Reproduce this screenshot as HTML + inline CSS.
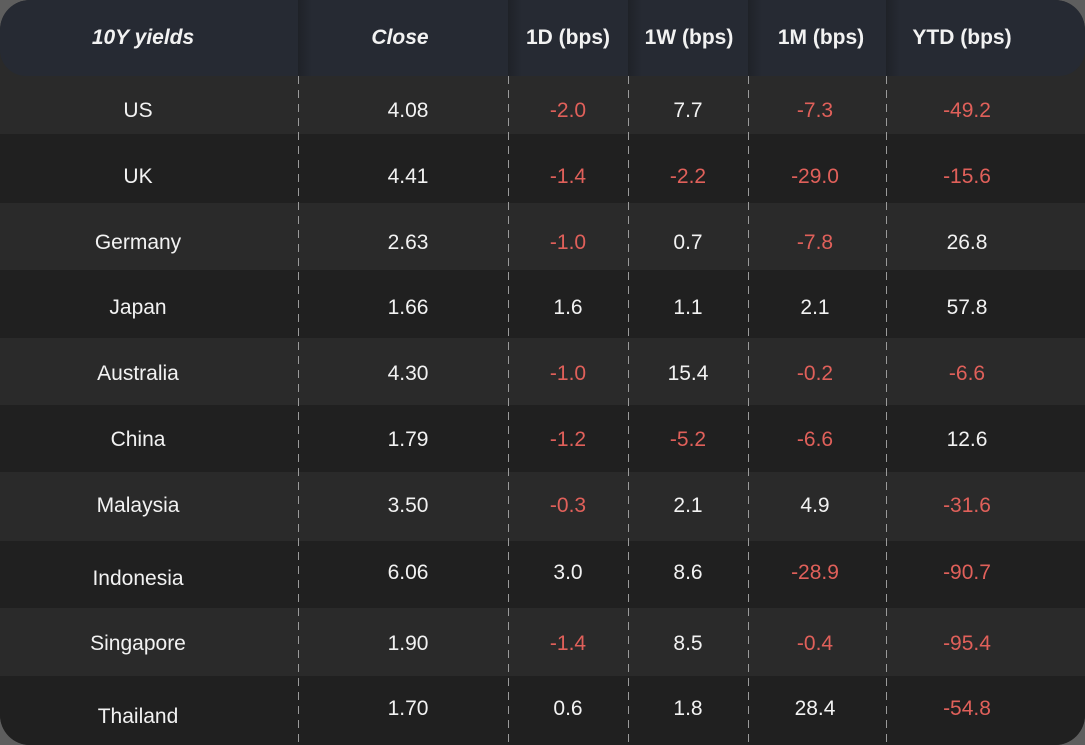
<!DOCTYPE html>
<html><head><meta charset="utf-8"><style>
html,body{margin:0;padding:0;width:1085px;height:745px;background:#5e5e5e;overflow:hidden}
#c{position:absolute;left:0;top:0;width:1085px;height:745px;border-radius:30px;overflow:hidden;background:#2a2a2a;font-family:"Liberation Sans",sans-serif;font-size:21px;color:#f2f2f2}
.r{position:absolute;left:0;width:1085px}
.h{position:absolute;left:0;top:0;width:1085px;height:76px;background:#262a33;border-radius:28px 28px 26px 26px}
.t{position:absolute;transform:translate(-50%,-50%);white-space:nowrap;margin-top:1px}
.hd{font-weight:bold;font-size:21px}
.it{font-style:italic}
.neg{color:#e0605a}
.v{position:absolute;top:76px;height:669px;width:1px;background:repeating-linear-gradient(180deg,#9a9a9a 0 8px,transparent 8px 14px)}
.hs{position:absolute;top:0;height:76px;width:14px;background:linear-gradient(90deg,#1f2228,rgba(38,42,51,0))}
</style></head><body><div id="c">
<div class="r" style="top:76px;height:58px;background:#2a2a2a"></div>
<div class="r" style="top:134px;height:69px;background:#202020"></div>
<div class="r" style="top:203px;height:67px;background:#2a2a2a"></div>
<div class="r" style="top:270px;height:68px;background:#202020"></div>
<div class="r" style="top:338px;height:67px;background:#2a2a2a"></div>
<div class="r" style="top:405px;height:67px;background:#202020"></div>
<div class="r" style="top:472px;height:69px;background:#2a2a2a"></div>
<div class="r" style="top:541px;height:67px;background:#202020"></div>
<div class="r" style="top:608px;height:68px;background:#2a2a2a"></div>
<div class="r" style="top:676px;height:69px;background:#202020"></div>
<div class="h"></div>
<div class="hs" style="left:298px"></div><div class="hs" style="left:508px"></div><div class="hs" style="left:628px"></div><div class="hs" style="left:748px"></div><div class="hs" style="left:886px"></div>
<div class="v" style="left:298px"></div><div class="v" style="left:508px"></div><div class="v" style="left:628px"></div><div class="v" style="left:748px"></div><div class="v" style="left:886px"></div>
<div class="t hd it" style="left:143px;top:37px">10Y yields</div>
<div class="t hd it" style="left:400px;top:37px">Close</div>
<div class="t hd" style="left:568px;top:37px">1D (bps)</div>
<div class="t hd" style="left:689px;top:37px">1W (bps)</div>
<div class="t hd" style="left:821px;top:37px">1M (bps)</div>
<div class="t hd" style="left:962px;top:37px">YTD (bps)</div>

<div class="t" style="left:138px;top:110px">US</div><div class="t" style="left:408px;top:110px">4.08</div><div class="t neg" style="left:568px;top:110px">-2.0</div><div class="t" style="left:688px;top:110px">7.7</div><div class="t neg" style="left:815px;top:110px">-7.3</div><div class="t neg" style="left:967px;top:110px">-49.2</div>
<div class="t" style="left:138px;top:176px">UK</div><div class="t" style="left:408px;top:176px">4.41</div><div class="t neg" style="left:568px;top:176px">-1.4</div><div class="t neg" style="left:688px;top:176px">-2.2</div><div class="t neg" style="left:815px;top:176px">-29.0</div><div class="t neg" style="left:967px;top:176px">-15.6</div>
<div class="t" style="left:138px;top:242px">Germany</div><div class="t" style="left:408px;top:242px">2.63</div><div class="t neg" style="left:568px;top:242px">-1.0</div><div class="t" style="left:688px;top:242px">0.7</div><div class="t neg" style="left:815px;top:242px">-7.8</div><div class="t" style="left:967px;top:242px">26.8</div>
<div class="t" style="left:138px;top:307px">Japan</div><div class="t" style="left:408px;top:307px">1.66</div><div class="t" style="left:568px;top:307px">1.6</div><div class="t" style="left:688px;top:307px">1.1</div><div class="t" style="left:815px;top:307px">2.1</div><div class="t" style="left:967px;top:307px">57.8</div>
<div class="t" style="left:138px;top:373px">Australia</div><div class="t" style="left:408px;top:373px">4.30</div><div class="t neg" style="left:568px;top:373px">-1.0</div><div class="t" style="left:688px;top:373px">15.4</div><div class="t neg" style="left:815px;top:373px">-0.2</div><div class="t neg" style="left:967px;top:373px">-6.6</div>
<div class="t" style="left:138px;top:439px">China</div><div class="t" style="left:408px;top:439px">1.79</div><div class="t neg" style="left:568px;top:439px">-1.2</div><div class="t neg" style="left:688px;top:439px">-5.2</div><div class="t neg" style="left:815px;top:439px">-6.6</div><div class="t" style="left:967px;top:439px">12.6</div>
<div class="t" style="left:138px;top:505px">Malaysia</div><div class="t" style="left:408px;top:505px">3.50</div><div class="t neg" style="left:568px;top:505px">-0.3</div><div class="t" style="left:688px;top:505px">2.1</div><div class="t" style="left:815px;top:505px">4.9</div><div class="t neg" style="left:967px;top:505px">-31.6</div>
<div class="t" style="left:138px;top:578px">Indonesia</div><div class="t" style="left:408px;top:572px">6.06</div><div class="t" style="left:568px;top:572px">3.0</div><div class="t" style="left:688px;top:572px">8.6</div><div class="t neg" style="left:815px;top:572px">-28.9</div><div class="t neg" style="left:967px;top:572px">-90.7</div>
<div class="t" style="left:138px;top:643px">Singapore</div><div class="t" style="left:408px;top:643px">1.90</div><div class="t neg" style="left:568px;top:643px">-1.4</div><div class="t" style="left:688px;top:643px">8.5</div><div class="t neg" style="left:815px;top:643px">-0.4</div><div class="t neg" style="left:967px;top:643px">-95.4</div>
<div class="t" style="left:138px;top:716px">Thailand</div><div class="t" style="left:408px;top:708px">1.70</div><div class="t" style="left:568px;top:708px">0.6</div><div class="t" style="left:688px;top:708px">1.8</div><div class="t" style="left:815px;top:708px">28.4</div><div class="t neg" style="left:967px;top:708px">-54.8</div>
</div></body></html>
